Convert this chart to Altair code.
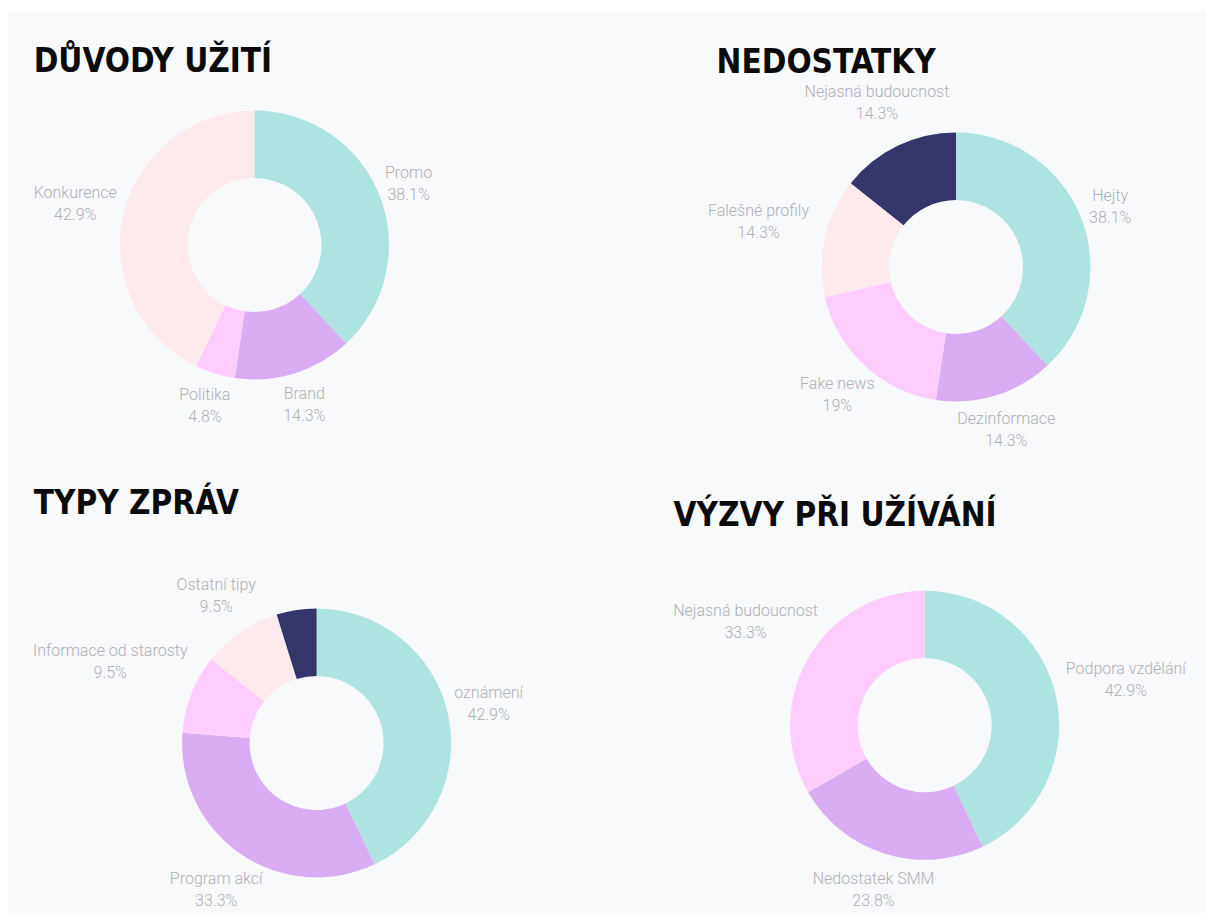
import math
import altair as alt
import pandas as pd

# ---------------- data ----------------
titles = ["DŮVODY UŽITÍ", "NEDOSTATKY", "TYPY ZPRÁV", "VÝZVY PŘI UŽÍVÁNÍ"]

duvody_labels = ["Promo", "Brand", "Politika", "Konkurence"]
duvody_values = [38.1, 14.3, 4.8, 42.9]

nedostatky_labels = ["Hejty", "Dezinformace", "Fake news", "Falešné profily", "Nejasná budoucnost"]
nedostatky_values = [38.1, 14.3, 19, 14.3, 14.3]

typy_labels = ["oznámení", "Program akcí", "Informace od starosty", "Ostatní tipy", ""]
typy_values = [42.9, 33.3, 9.5, 9.5, 4.8]

vyzvy_labels = ["Podpora vzdělání", "Nedostatek SMM", "Nejasná budoucnost"]
vyzvy_values = [42.9, 23.8, 33.3]

# ---------------- styles / layout ----------------
colors = ["#ade4e2", "#d9adf3", "#fecdfd", "#fdeaec", "#33356b"]
panel_bg = "#f8f9fb"
label_color = "#b0b0b7"
label_font = "Roboto"
title_font = "DejaVu Sans Condensed, Liberation Sans Narrow, DejaVu Sans, sans-serif"

W, H = 1198, 902
OUTER, INNER = 134.5, 67
R0 = 146          # gap between centre and the edge of a label box
CHAR_W = 7.7      # estimated label glyph width
HALF_H = 22       # half height of the two-line label block
LINE_H = 22

layout = [
    # centre x, centre y, title x, title baseline y
    (246.5, 234, 25.7, 60.7),
    (948, 256, 708.6, 61.7),
    (308.6, 732, 25.7, 503.3),
    (916.7, 714.3, 665.6, 515.3),
]


def label_radius(labels, values):
    total = sum(values)
    cum = 0.0
    out = []
    for lab, v in zip(labels, values):
        mid = (cum + v / 2) / total * 2 * math.pi
        cum += v
        pct = f"{v:g}%"
        hw = max(len(lab), len(pct)) * CHAR_W / 2
        ext = math.hypot(hw * math.sin(mid), HALF_H * math.cos(mid))
        out.append(R0 + ext)
    return out


def donut(labels, values, cx, cy, title, tx, ty):
    df = pd.DataFrame({
        "label": labels,
        "value": values,
        "slot": list(range(len(labels))),
    })
    df["text"] = [f"{l}\n{v:g}%" if l else "" for l, v in zip(labels, values)]
    df["lr"] = label_radius(labels, values)

    base = alt.Chart(df).encode(
        theta=alt.Theta("value:Q", stack="normalize"),
        order=alt.Order("slot:Q"),
        x=alt.value(cx),
        y=alt.value(cy),
    )
    arcs = base.mark_arc(outerRadius=OUTER, innerRadius=INNER).encode(
        color=alt.Color(
            "slot:N",
            scale=alt.Scale(domain=list(range(len(colors))), range=colors),
            legend=None,
        )
    )
    texts = base.mark_text(
        align="center",
        baseline="middle",
        lineBreak="\n",
        lineHeight=LINE_H,
        dy=-LINE_H / 2,
        font=label_font,
        fontSize=16,
        fontWeight=300,
        color=label_color,
    ).encode(
        text="text:N",
        radius={"value": {"expr": "datum.lr"}},
        detail="slot:N",
    )
    ttl = alt.Chart(pd.DataFrame({"t": [title]})).mark_text(
        align="left",
        baseline="alphabetic",
        font=title_font,
        fontSize=33,
        fontWeight="bold",
        color="#0b0b0b",
    ).encode(text="t:N", x=alt.value(tx), y=alt.value(ty))
    return [arcs, texts, ttl]


series = [
    (duvody_labels, duvody_values),
    (nedostatky_labels, nedostatky_values),
    (typy_labels, typy_values),
    (vyzvy_labels, vyzvy_values),
]

layers = []
for (labs, vals), title, (cx, cy, tx, ty) in zip(series, titles, layout):
    layers += donut(labs, vals, cx, cy, title, tx, ty)

chart = alt.layer(*layers).properties(
    width=W,
    height=H,
    padding={"left": 0, "top": 3, "right": 0, "bottom": 0},
    autosize=alt.AutoSizeParams(type="none"),
    background="white",
).configure_view(stroke=None, fill=panel_bg)

chart.save("out.html", embed_options={"renderer": "svg", "actions": False})
